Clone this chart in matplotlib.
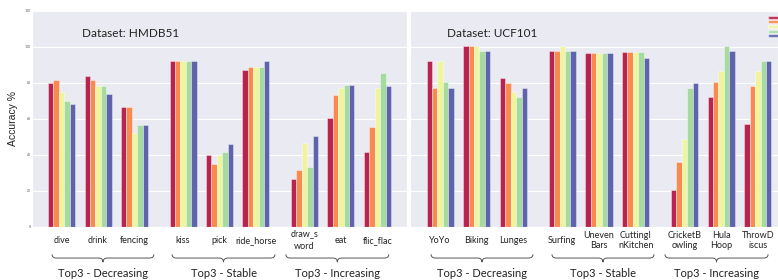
import numpy as np
import matplotlib
matplotlib.use("Agg")
import matplotlib.pyplot as plt
from matplotlib.patches import Patch, PathPatch
from matplotlib.path import Path
import matplotlib.transforms as mtransforms
import seaborn as sns

sns.set_style("darkgrid")
plt.rcParams['font.family'] = ['Lato', 'DejaVu Sans']

colors = ['#b8234f', '#f8894f', '#eef59c', '#a6dba0', '#5e63ab']
groups = ['Top3 - Decreasing', 'Top3 - Stable', 'Top3 - Increasing']

# HMDB51
hmdb_classes = ['dive', 'drink', 'fencing', 'kiss', 'pick', 'ride_horse',
                'draw_s\nword', 'eat', 'flic_flac']
hmdb_vals = [
    [80.0, 83.7, 66.8, 92.0, 40.2, 87.0, 26.7, 60.4, 41.8],
    [81.5, 81.8, 66.8, 92.0, 35.2, 88.5, 31.8, 73.3, 55.4],
    [75.0, 78.5, 52.0, 92.0, 40.0, 88.5, 46.7, 77.0, 77.0],
    [70.0, 78.5, 56.7, 92.0, 41.5, 88.5, 33.3, 78.7, 85.5],
    [68.5, 73.7, 56.7, 92.0, 46.0, 92.0, 50.4, 78.7, 78.3],
]
hmdb_braces = [(-0.26, 2.53), (3.03, 5.85), (6.15, 8.97)]

# UCF101
ucf_classes = ['YoYo', 'Biking', 'Lunges', 'Surfing', 'Uneven\nBars',
               'CuttingI\nnKitchen', 'CricketB\nowling', 'Hula\nHoop', 'ThrowD\niscus']
ucf_vals = [
    [91.9, 100.5, 82.4, 97.8, 96.7, 97.0, 20.6, 72.4, 57.0],
    [77.4, 100.5, 80.0, 97.8, 96.7, 97.0, 36.0, 80.7, 78.5],
    [91.9, 100.5, 74.8, 100.5, 96.7, 97.0, 48.7, 86.5, 86.7],
    [80.2, 97.4, 72.0, 97.8, 96.7, 97.0, 77.2, 100.5, 92.0],
    [77.4, 97.4, 77.2, 97.8, 96.7, 93.9, 79.8, 97.8, 92.0],
]
ucf_braces = [(-0.245, 2.53), (3.05, 5.83), (6.13, 8.94)]

W, H = 778, 280
fig = plt.figure(figsize=(W / 100, H / 100), dpi=100)
ax1 = fig.add_axes([32 / W, 53 / H, 375 / W, 217 / H])
ax2 = fig.add_axes([410 / W, 53 / H, 368 / W, 217 / H])

pos = np.array([i + (i // 3) * 0.33 for i in range(9)])
bw = 0.148


def brace(ax, x0, x1):
    tr = mtransforms.blended_transform_factory(ax.transData, ax.transAxes)
    top, line, tip = -0.126, -0.143, -0.162
    xc = (x0 + x1) / 2
    r = 0.12
    verts = [(x0, top), (x0, line), (x0 + r, line),
             (xc - r, line), (xc, line), (xc, tip),
             (xc, line), (xc + r, line),
             (x1 - r, line), (x1, line), (x1, top)]
    codes = [Path.MOVETO, Path.CURVE3, Path.CURVE3,
             Path.LINETO, Path.CURVE3, Path.CURVE3,
             Path.CURVE3, Path.CURVE3,
             Path.LINETO, Path.CURVE3, Path.CURVE3]
    ax.add_patch(PathPatch(Path(verts, codes), fc='none', ec='#555555',
                           lw=0.7, transform=tr, clip_on=False))


def draw(ax, classes, vals, braces, title, tx, xlim, lsp):
    for k in range(5):
        ax.bar(pos + (k - 2) * bw, vals[k], width=bw, color=colors[k],
               edgecolor=(1, 1, 1, 0.45), linewidth=0.6)
    ax.set_ylim(0, 120.4)
    ax.set_xlim(*xlim)
    ax.set_yticks(range(0, 121, 20))
    ax.tick_params(axis='y', labelsize=2.5, labelcolor='#555555', pad=1, length=0)
    ax.set_xticks(pos, classes)
    ax.tick_params(axis='x', labelsize=6.5, pad=9.5, length=0, labelcolor='#222222')
    for lab in ax.get_xticklabels():
        lab.set_verticalalignment('center')
        lab.set_linespacing(lsp)
    ax.grid(axis='x', visible=False)
    ax.grid(axis='y', color='white', linewidth=0.8)
    ax.text(tx, 0.894, title, transform=ax.transAxes, fontsize=8.5,
            va='center', ha='left', color='#222222')
    tr = mtransforms.blended_transform_factory(ax.transData, ax.transAxes)
    for g in range(3):
        x0, x1 = braces[g]
        brace(ax, x0, x1)
        ax.text((x0 + x1) / 2, -0.212, groups[g], fontsize=8, ha='center',
                va='center', color='#222222', transform=tr)


draw(ax1, hmdb_classes, hmdb_vals, hmdb_braces, 'Dataset: HMDB51', 0.133, (-0.81, 9.47), 1.45)
draw(ax2, ucf_classes, ucf_vals, ucf_braces, 'Dataset: UCF101', 0.10, (-0.82, 9.21), 1.15)
ax2.set_yticklabels([])

ax1.set_ylabel('Accuracy %', fontsize=7.5, family=['Liberation Sans'], labelpad=5, color='#222222')

handles = [Patch(facecolor=c, edgecolor=(1, 1, 1, 0.5)) for c in colors]
ax2.legend(handles, [''] * 5, loc='upper right', bbox_to_anchor=(1.012, 0.99),
           fontsize=3, handlelength=2.6, handleheight=0.8, labelspacing=0.15,
           handletextpad=0, borderpad=0.3, frameon=False)

fig.savefig('out.png', dpi=100)
